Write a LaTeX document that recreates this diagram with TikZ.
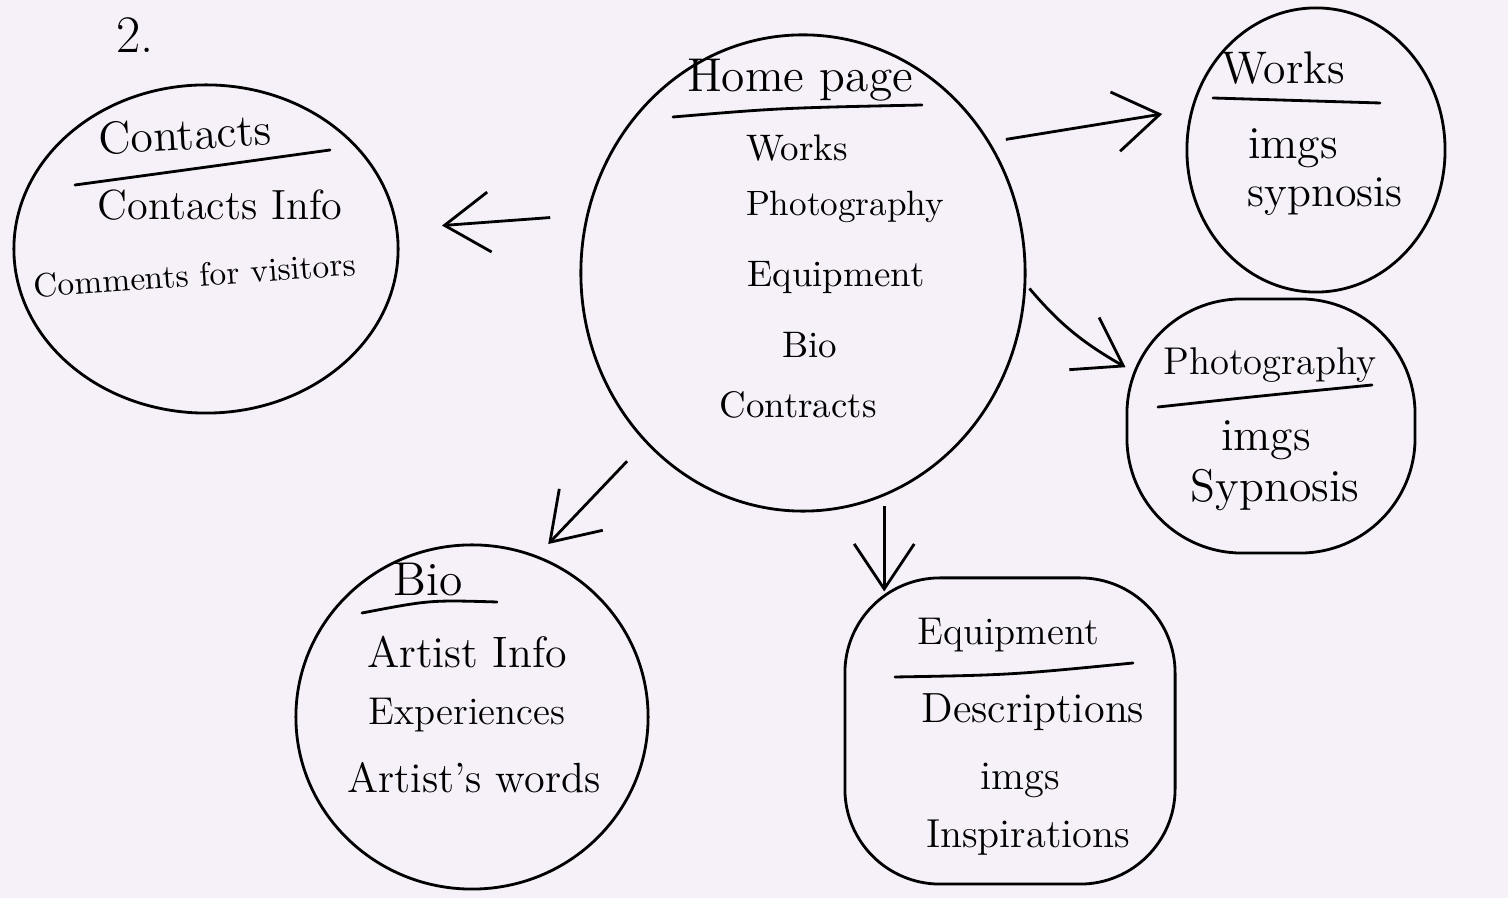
\documentclass[tikz,border=0pt]{standalone}
\usetikzlibrary{shapes.geometric,arrows.meta,calc}
\definecolor{bg}{HTML}{F6F1F8}
\newcommand\myfs[1]{\fontsize{#1}{#1}\selectfont}
\begin{document}
\begin{tikzpicture}[x=0.01cm,y=-0.01cm,
  bubble/.style={ellipse, draw, line width=0.8pt, inner sep=0pt},
  sqbubble/.style={rectangle, draw, line width=0.8pt, inner sep=0pt, rounded corners=1.15cm},
  lbl/.style={inner sep=0pt, anchor=center},
  arr/.style={-{Straight Barb[length=4.5mm,width=6mm]}, line width=0.8pt},
  uline/.style={line width=0.8pt, line cap=round}]
\fill[bg] (0,0) rectangle (1508,898);
\useasboundingbox (0,0) rectangle (1508,898);

% bubbles
\node[bubble, minimum width=4.44cm, minimum height=4.76cm] (home) at (803,273) {};
\node[bubble, minimum width=3.84cm, minimum height=3.28cm] (contacts) at (206,249) {};
\node[bubble, minimum width=2.58cm, minimum height=2.84cm] (works) at (1316,150) {};
\node[sqbubble, minimum width=2.88cm, minimum height=2.54cm] (photo) at (1271,426) {};
\node[bubble, minimum width=3.52cm, minimum height=3.44cm] (bio) at (472,717) {};
\node[sqbubble, rounded corners=0.95cm, minimum width=3.30cm, minimum height=3.06cm] (equip) at (1010,731) {};

% label
\node[lbl] (num) at (135,35) {\myfs{15}2.};

% homepage texts
\node[lbl] (homeT) at (800,80) {\myfs{13.5}Home page};
\draw[uline] (673,117) .. controls (780,108) .. (922,105);
\node[lbl] (homeA) at (797,148) {\myfs{10.5}Works};
\node[lbl] (homeB) at (845,207) {\myfs{10}Photography};
\node[lbl] (homeC) at (836,278) {\myfs{10.5}Equipment};
\node[lbl] (homeD) at (810,345) {\myfs{10.5}Bio};
\node[lbl] (homeE) at (798,405) {\myfs{10.5}Contracts};

% contacts texts
\node[lbl, rotate=3] (conT) at (185,134) {\myfs{13}Contacts};
\draw[uline] (75,185) .. controls (200,168) .. (330,150);
\node[lbl] (conA) at (220,205) {\myfs{12}Contacts Info};
\node[lbl, rotate=4] (conB) at (195,275) {\myfs{9.5}Comments for visitors};

% works texts
\node[lbl] (worT) at (1283,68) {\myfs{13}Works};
\draw[uline] (1213,98) -- (1380,103);
\node[lbl] (worA) at (1293,148) {\myfs{13}imgs};
\node[lbl] (worB) at (1325,197) {\myfs{12.5}sypnosis};

% photography texts
\node[lbl] (phoT) at (1270,365) {\myfs{11}Photography};
\draw[uline] (1158,407) .. controls (1260,396) .. (1372,385);
\node[lbl] (phoA) at (1266,440) {\myfs{13}imgs};
\node[lbl] (phoB) at (1275,490) {\myfs{13}Sypnosis};

% bio texts
\node[lbl] (bioT) at (428,580) {\myfs{13.5}Bio};
\draw[uline] (362,613) .. controls (430,600) .. (497,602);
\node[lbl] (bioA) at (467,652) {\myfs{12.5}Artist Info};
\node[lbl] (bioB) at (467,715) {\myfs{11}Experiences};
\node[lbl] (bioC) at (474,778) {\myfs{12}Artist's words};

% equipment texts
\node[lbl] (equT) at (1008,635) {\myfs{11}Equipment};
\draw[uline] (895,677) .. controls (1010,675) .. (1133,663);
\node[lbl] (equA) at (1033,712) {\myfs{12}Descriptions};
\node[lbl] (equB) at (1020,780) {\myfs{11.5}imgs};
\node[lbl] (equC) at (1028,838) {\myfs{11.5}Inspirations};

% connectors
\coordinate (eqin) at ($(home.-70 |- equip.north)+(0,15)$);
\draw[arr, shorten <=0.36cm, shorten >=0.44cm] (home.165) -- (contacts.6);
\draw[arr, shorten <=0.16cm, shorten >=0.29cm] (home.35) -- (works.162);
\draw[arr, shorten <=0.05cm] (home.-3) to[bend right=10] (photo.158);
\draw[arr, shorten <=0.26cm, shorten >=0.16cm] (home.227) -- (bio.68);
\draw[arr, shorten <=0.10cm] (home.-70) -- (eqin);
\end{tikzpicture}
\end{document}
